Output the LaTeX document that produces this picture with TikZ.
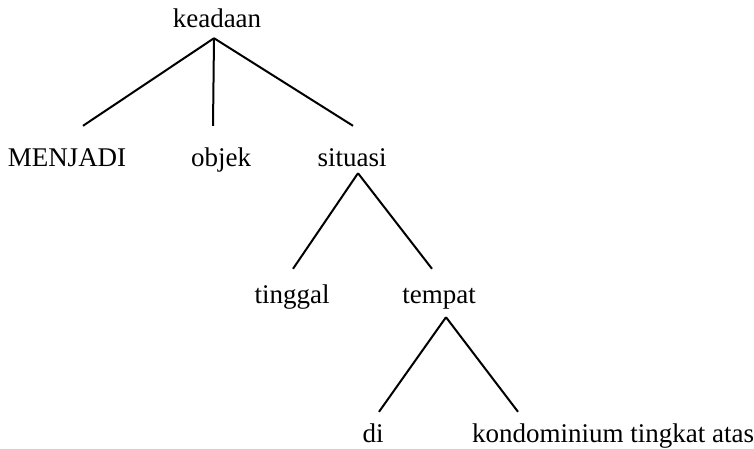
\documentclass[tikz,border=0pt]{standalone}
\usepackage{fontspec}
\setmainfont{Liberation Serif}
\usepackage{tikz}
\tikzset{word/.style={font=\fontsize{27}{32}\selectfont,inner sep=0pt,text height=19pt,text depth=6pt,anchor=base},
  branch/.style={line width=2pt}}

\begin{document}
\begin{tikzpicture}[x=1pt, y=-1pt]
    \useasboundingbox (0,0) rectangle (754,449);

    \node[word] (keadaan) at (217,28) {keadaan};

    \node[word] (menjadi) at (67,167) {MENJADI};
    \node[word] (objek) at (221,167) {objek};
    \node[word] (situasi) at (352,167) {situasi};

    \node[word] (tinggal) at (292,303) {tinggal};
    \node[word] (tempat) at (439,303) {tempat};

    \node[word] (di) at (373,442) {di};
    \node[word, anchor=base west] (kondominium) at (472,442) {kondominium tingkat atas};

    \draw[branch] ([xshift=-3pt,yshift=-4pt]keadaan.south) -- ([xshift=16pt,yshift=22pt]menjadi.north);
    \draw[branch] ([xshift=-3pt,yshift=-4pt]keadaan.south) -- ([xshift=-8pt,yshift=22pt]objek.north);
    \draw[branch] ([xshift=-3pt,yshift=-4pt]keadaan.south) -- ([xshift=1pt,yshift=22pt]situasi.north);

    \draw[branch] ([xshift=6pt]situasi.south) -- ([xshift=1pt,yshift=15pt]tinggal.north);
    \draw[branch] ([xshift=6pt]situasi.south) -- ([xshift=-7pt,yshift=15pt]tempat.north);

    \draw[branch] ([xshift=7pt,yshift=-8pt]tempat.south) -- ([xshift=6pt,yshift=11pt]di.north);
    \draw[branch] ([xshift=7pt,yshift=-8pt]tempat.south) -- ([xshift=46pt,yshift=11pt]kondominium.north west);
\end{tikzpicture}
\end{document}
